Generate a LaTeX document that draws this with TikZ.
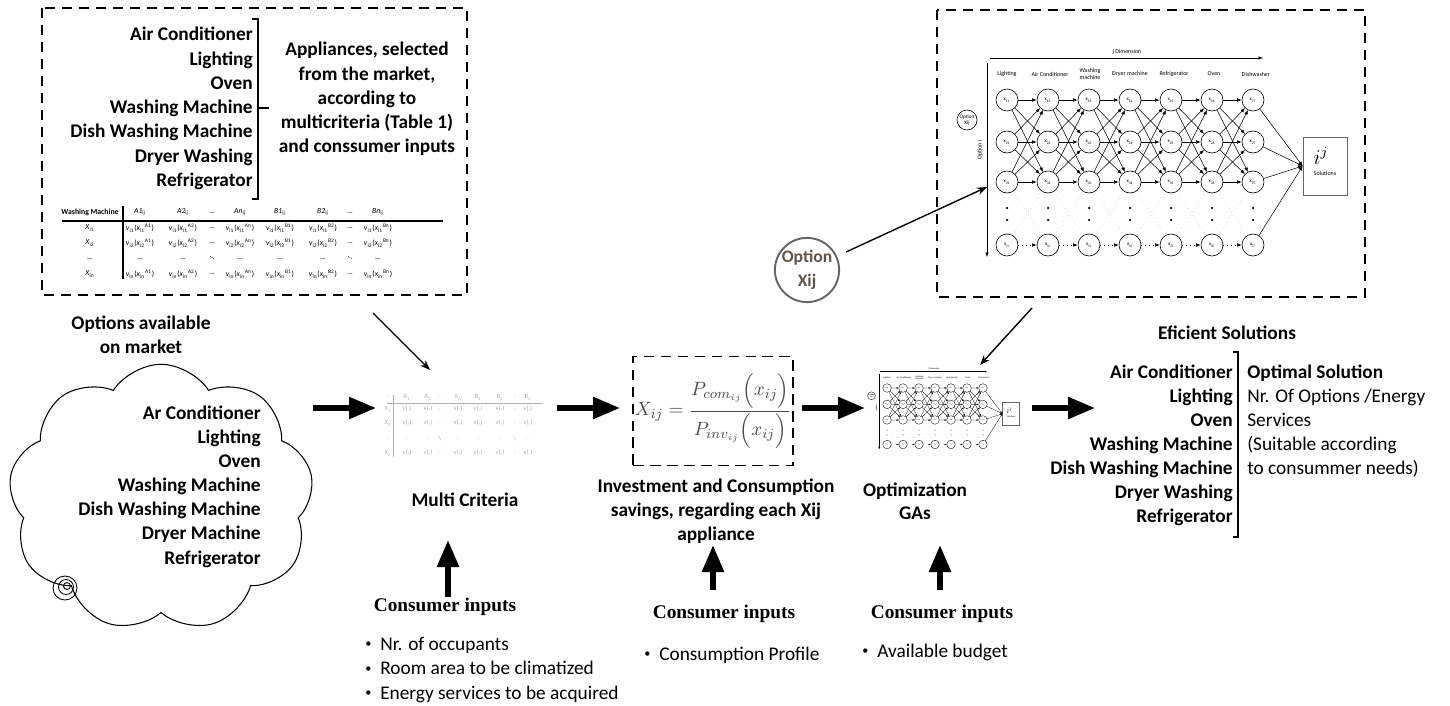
\documentclass[tikz,border=0pt]{standalone}
\usepackage{amsmath}
\usepackage{fontspec}
\setmainfont{Carlito}
\newfontfamily\serifbold{Liberation Serif}
\usetikzlibrary{positioning,arrows.meta,shapes.symbols}

\definecolor{optgray}{RGB}{95,85,75}
\definecolor{faint}{RGB}{175,175,175}

\tikzset{
  lbl/.style={font=\fontsize{11}{13.7}\selectfont\bfseries, inner sep=0pt},
  plain/.style={font=\fontsize{11}{13.7}\selectfont, inner sep=0pt},
  cinput/.style={font=\serifbold\fontsize{11}{13}\selectfont\bfseries, inner sep=0pt, anchor=base},
  bullet/.style={font=\fontsize{11}{13.7}\selectfont, inner sep=0pt, anchor=base west},
  dashbox/.style={draw, line width=0.8pt, dash pattern=on 2.1mm off 1.3mm},
  thinarrow/.style={line width=0.8pt, -{Stealth[length=2mm,width=1.5mm]}},
  bigarrow/.style={line width=1.1mm, -{Triangle[length=5.4mm,width=4.2mm]}},
  netnode/.style={draw, circle, minimum size=0.44cm, inner sep=0pt, line width=0.35pt, font=\fontsize{3}{3.4}\selectfont, align=center},
  netedge/.style={line width=0.3pt, -{Latex[length=0.9mm,width=0.7mm]}},
  nettext/.style={font=\fontsize{3.4}{3.8}\selectfont, inner sep=0pt, align=center},
  tabtext/.style={font=\fontsize{4.4}{5}\selectfont, inner sep=0pt},
  mctext/.style={font=\fontsize{3.8}{4}\selectfont, inner sep=0pt, text=faint},
}

\newcommand{\bul}{\makebox[8.5pt][l]{\raisebox{0.25ex}{\fontsize{7}{7}\selectfont\textbullet}}}
\newcommand{\vcell}[2]{\textit{v}\textsubscript{i#1}(\textit{x}\textsubscript{i#1}\textsuperscript{#2})}

% option network (drawn at full size, reused as thumbnail)
\newcommand{\optnet}{%
  \coordinate (jl) at (990,58);
  \coordinate (jr) at (1263,58);
  \draw[netedge] (jl) -- (jr); % j axis
  \node[nettext] (jlab) at (1127,52) {j Dimension};
  \coordinate (it) at (987,63);
  \coordinate (ib) at (987,257);
  \draw[netedge] (it) -- (ib); % i axis
  \node[nettext, rotate=90] (ilab) at (980,150) {Option i};
  \node[netnode, minimum size=0.4cm] (osm) at (967,120) {Option\\Xij};
  \foreach \x/\t [count=\k] in {1007/Lighting, 1050/Air Conditioner, 1090/{Washing\\machine}, 1130/Dryer machine, 1174/Refrigerator, 1214/Oven, 1256/Dishwasher}
    \node[nettext] (hd\k) at (\x,74) {\t};
  \foreach \x [count=\c] in {1007,1048,1089,1130,1171,1212,1253} {
    \foreach \r/\y in {1/100,2/142,3/182,i/245}
      \node[netnode] (x\r\c) at (\x,\y) {x\textsubscript{\r\c}};
    \fill (\x,208) circle (0.25mm) (\x,220) circle (0.25mm);
  }
  \foreach \c [evaluate=\c as \d using int(\c+1)] in {1,...,6} {
    \foreach \p in {1,2,3}
      \foreach \q in {1,2,3}
        \draw[netedge] (x\p\c) -- (x\q\d);
    \draw[netedge, dotted] (xi\c) -- (xi\d);
    \draw[faint, dotted, line width=0.3pt] (x3\c) -- (xi\d) (xi\c) -- (x3\d);
  }
  \node[draw=black!60, line width=0.4pt, minimum width=0.88cm, minimum height=1.16cm, inner sep=0pt] (sol) at (1325,166) {};
  \node[font=\fontsize{12}{12}\selectfont, inner sep=0pt] (soli) at (1321,156) {$i^j$};
  \node[nettext] (sollab) at (1325,173) {Solutions};
  \foreach \r in {1,2,3,i}
    \draw[netedge] (x\r7) -- (sol.west);
}

\begin{document}
\begin{tikzpicture}[x=0.02cm, y=-0.02cm]
\path[fill=white, use as bounding box] (0,0) rectangle (1450,706);

% Top left box
\draw[dashbox] (42,8) rectangle (467,295);
\foreach \t [count=\i from 0] in {Air Conditioner, Lighting, Oven, Washing Machine, Dish Washing Machine, Dryer Washing, Refrigerator}
  \node[lbl, anchor=base east] (tl\i) at (253,{41+24.2*\i}) {\t};
\draw[line width=0.7pt] (252,19) -- (258,19) -- (258,199) -- (252,199); % bracket
\draw[line width=0.7pt] (258,108) -- (269,108); % bracket tick
\foreach \t [count=\i from 0] in {{Appliances, selected}, {from the market,}, according to, {multicriteria (Table 1)}, and conssumer inputs}
  \node[lbl, anchor=base] (ap\i) at (367,{56+24.25*\i}) {\t};
% table
\draw[line width=0.6pt] (62,221) -- (443,221);
\draw[line width=0.8pt] (123,206) -- (123,279);
\node[tabtext] (tabhead) at (90,212) {\textbf{Washing Machine}};
\foreach \x/\t in {140/A1,183/A2,240/An,280/B1,323/B2,378/Bn}
  \node[tabtext] (th\x) at (\x,212) {\textit{\t}\textsubscript{ij}};
\foreach \x in {212,350}
  \node[tabtext] (thd\x) at (\x,213) {...};
\foreach \y/\r in {228/1,243/2,274/n} {
  \node[tabtext] (rl\r) at (90,\y) {\textit{X}\textsubscript{i\r}};
  \foreach \x/\t in {140/A1,183/A2,240/An,280/B1,323/B2,378/Bn}
    \node[tabtext] (c\x\r) at (\x,\y) {\vcell{\r}{\t}};
  \foreach \x in {212,350}
    \node[tabtext] (cd\x\r) at (\x,\y) {...};
}
\node[tabtext] (rldots) at (90,259) {...};
\foreach \x in {140,183,240,280,323,378}
  \node[tabtext] (cdots\x) at (\x,259) {...};
\foreach \x in {212,350}
  \node[tabtext, rotate=-45] (cdd\x) at (\x,258) {...};
\coordinate (tlout) at (373,313);
\coordinate (mcin) at (430,370);
\draw[thinarrow] (tlout) -- (mcin);

% Cloud
\node[lbl, anchor=base] (opt1) at (141,329) {Options available};
\node[lbl, anchor=base] (opt2) at (141,353) {on market};
\node[cloud, draw, cloud puffs=9, cloud puff arc=115, cloud ignores aspect, minimum width=6.1cm, minimum height=5.35cm, line width=0.6pt] (market) at (161,498) {};
\foreach \t [count=\i from 0] in {Ar Conditioner, Lighting, Oven, Washing Machine, Dish Washing Machine, Dryer Machine, Refrigerator}
  \node[lbl, anchor=base east] (cl\i) at (261,{419+24.17*\i}) {\t};
\draw[line width=0.5pt] (65,588) circle (2.4mm) (66,587) circle (1.5mm) (67,586) circle (0.7mm); % tail

% Multi criteria (faded table)
\draw[faint, line width=0.5pt] (387,403) -- (543,403);
\draw[faint, line width=0.5pt] (393,395) -- (393,457);
\foreach \x/\t [count=\k] in {388/.,407/A\textsubscript{1},428/A\textsubscript{2},440/.,458/A\textsubscript{n},478/B\textsubscript{1},500/B\textsubscript{2},515/.,528/B\textsubscript{n}}
  \node[mctext] (mch\k) at (\x,397) {\t};
\foreach \y/\r in {409/1,423/2,453/n} {
  \node[mctext] (mcr\r) at (388,\y) {X\textsubscript{\r}};
  \foreach \x in {407,428,458,478,500,528}
    \node[mctext] (mc\x\r) at (\x,\y) {v(.)};
  \foreach \x in {440,515}
    \node[mctext] (mcd\x\r) at (\x,\y) {.};
}
\foreach \x in {388,407,428,458,478,500,528}
  \node[mctext] (mcdot\x) at (\x,439) {.};
\foreach \x in {440,515}
  \node[mctext] (mcdd\x) at (\x,438) {\textbackslash};
\node[lbl, anchor=base] (mclab) at (465,506) {Multi Criteria};

% Formula
\node[dashbox, minimum width=3.2cm, minimum height=2.18cm, inner sep=0pt, text=black!70, font=\fontsize{11}{13}\selectfont] (formula) at (713,411)
  {$X_{ij}=\dfrac{P_{com_{ij}}\Bigl(x_{ij}\Bigr)}{P_{inv_{ij}}\Bigl(x_{ij}\Bigr)}$};
\foreach \t [count=\i from 0] in {Investment and Consumption, {savings, regarding each Xij}, appliance}
  \node[lbl, anchor=base] (inv\i) at (716,{492+24*\i}) {\t};

% Option circle and network
\node[circle, draw=black!60, line width=1.1pt, minimum size=1.28cm, inner sep=0pt, align=center, text=optgray, font=\fontsize{10}{14}\selectfont\bfseries] (optx) at (807,270) {Option\\Xij};
\draw[dashbox] (937,10) rectangle (1365,297);
\optnet
\coordinate (optin) at (987,187);
\draw[thinarrow, shorten <=2mm] (optx) -- (optin);

% GA thumbnail
\begin{scope}[shift={(494.3,349)}, scale=0.39, transform shape, name prefix=t-,
  netedge/.append style={line width=0.15pt, -{Latex[length=0.4mm,width=0.35mm]}},
  netnode/.append style={line width=0.2pt}]
\optnet
\end{scope}
\coordinate (nbout) at (1032,308);
\coordinate (gain) at (980,365);
\draw[thinarrow] (nbout) -- (gain);
\node[lbl, anchor=base] (ga1) at (915,496) {Optimization};
\node[lbl, anchor=base] (ga2) at (915,519) {GAs};

% Big arrows
\coordinate (a1s) at (313,408); \coordinate (a1e) at (376,408);
\coordinate (a2s) at (557,408); \coordinate (a2e) at (620,408);
\coordinate (a3s) at (802,408); \coordinate (a3e) at (865,408);
\coordinate (a4s) at (1032,408); \coordinate (a4e) at (1095,408);
\draw[bigarrow] (a1s) -- (a1e);
\draw[bigarrow] (a2s) -- (a2e);
\draw[bigarrow] (a3s) -- (a3e);
\draw[bigarrow] (a4s) -- (a4e);

% Solutions
\node[lbl, anchor=base] (effsol) at (1227,339) {Eficient Solutions};
\foreach \t [count=\i from 0] in {Air Conditioner, Lighting, Oven, Washing Machine, Dish Washing Machine, Dryer Washing, Refrigerator}
  \node[lbl, anchor=base east] (sl\i) at (1233,{378+24*\i}) {\t};
\draw[line width=0.7pt] (1233,352) -- (1238,352) -- (1238,537) -- (1233,537); % bracket
\node[lbl, anchor=base west] (os0) at (1247,378) {Optimal Solution};
\foreach \t [count=\i from 1] in {Nr. Of Options /Energy, Services, {(Suitable according}, {to consummer needs)}}
  \node[plain, anchor=base west] (os\i) at (1247,{378+24*\i}) {\t};

% Consumer inputs
\coordinate (u1s) at (448,597); \coordinate (u1e) at (448,540);
\coordinate (u2s) at (713,590); \coordinate (u2e) at (713,545);
\coordinate (u3s) at (940,590); \coordinate (u3e) at (940,545);
\draw[bigarrow] (u1s) -- (u1e);
\draw[bigarrow] (u2s) -- (u2e);
\draw[bigarrow] (u3s) -- (u3e);
\node[cinput] (ci1) at (445,611) {Consumer inputs};
\node[cinput] (ci2) at (724,618) {Consumer inputs};
\node[cinput] (ci3) at (942,618) {Consumer inputs};
\foreach \t [count=\i from 0] in {Nr. of occupants, Room area to be climatized, Energy services to be acquired}
  \node[bullet] (b1\i) at (365,{650+24.5*\i}) {\bul\t};
\node[bullet] (b2) at (644,660) {\bul Consumption Profile};
\node[bullet] (b3) at (862,657) {\bul Available budget};
\end{tikzpicture}
\end{document}
